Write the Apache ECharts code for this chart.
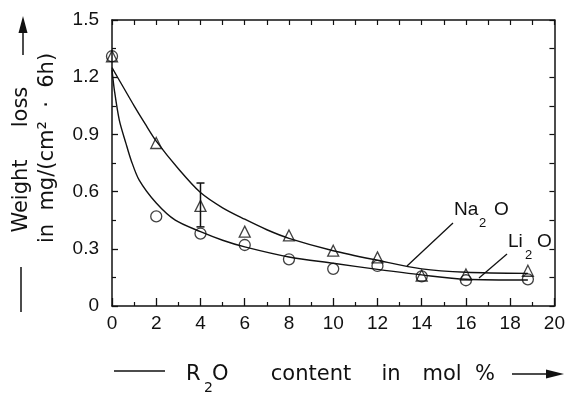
<!DOCTYPE html>
<html><head><meta charset="utf-8">
<script src="https://cdn.jsdelivr.net/npm/echarts@6/dist/echarts.min.js"></script>
<style>html,body{margin:0;padding:0;background:#fff}#c{width:568px;height:393px}</style>
</head><body><div id="c"></div>
<script>
// Measured points
const naX = [0, 2, 4, 6, 8, 10, 12, 14, 16, 18.8];
const naY = [1.31, 0.855, 0.525, 0.39, 0.37, 0.29, 0.255, 0.16, 0.165, 0.185];
const liX = [0, 2, 4, 6, 8, 10, 12, 14, 16, 18.8];
const liY = [1.31, 0.47, 0.38, 0.32, 0.245, 0.195, 0.21, 0.155, 0.135, 0.14];
// Error bar on the Na2O point at 4 mol %
const errX = [4];
const errLow = [0.415];
const errHigh = [0.645];
// Fitted curves
const naFitX = [0, 0.5, 1, 1.5, 2, 3, 4, 5, 6, 7, 8, 10, 12, 14, 16, 18.8];
const naFitY = [1.25, 1.15, 1.05, 0.955, 0.865, 0.72, 0.595, 0.515, 0.455, 0.40, 0.355, 0.29, 0.24, 0.195, 0.177, 0.171];
const liFitX = [0, 0.11, 0.33, 0.63, 0.86, 1.23, 2, 2.86, 4, 5, 6, 8, 10, 12, 14, 16, 18.8];
const liFitY = [1.24, 1.13, 0.975, 0.853, 0.766, 0.66, 0.54, 0.45, 0.39, 0.345, 0.31, 0.257, 0.224, 0.192, 0.163, 0.14, 0.136];
// Tick labels
const xTickLabels = ['0', '2', '4', '6', '8', '10', '12', '14', '16', '18', '20'];
const yTickLabels = ['0', '0.3', '0.6', '0.9', '1.2', '1.5'];

const INK = '#111';
const zip = (a, b) => a.map((v, i) => [v, b[i]]);

const chart = echarts.init(document.getElementById('c'), null, {renderer: 'canvas'});

const axisLine = {show: true, onZero: false, lineStyle: {color: INK, width: 1.5}};
const tickFont = {fontFamily: 'Liberation Sans', fontSize: 19, color: INK};

const tTitle = 'DejaVu Sans';
function txt(text, x, y, size, opt) {
  return Object.assign({
    type: 'text', x: x, y: y, silent: true,
    style: Object.assign({text: text, fontFamily: tTitle, fontSize: size, fill: INK,
      textAlign: 'left', textVerticalAlign: 'middle'}, opt && opt.style || {})
  }, opt && opt.el || {});
}
const C = {style: {textAlign: 'center'}};
function seg(x1, y1, x2, y2, w) {
  return {type: 'line', silent: true, shape: {x1, y1, x2, y2}, style: {stroke: INK, lineWidth: w || 1.5}};
}
function poly(points) {
  return {type: 'polygon', silent: true, shape: {points}, style: {fill: INK}};
}

const option = {
  animation: false,
  backgroundColor: '#fff',
  grid: {left: 112, right: 8, top: 20, bottom: 87},
  xAxis: [
    {type: 'value', min: 0, max: 20, interval: 2, position: 'bottom',
     axisLine: axisLine,
     axisTick: {show: true, inside: true, length: 8, lineStyle: {color: INK, width: 1.3}},
     minorTick: {show: true, splitNumber: 2, length: 4, lineStyle: {color: INK, width: 1.2}},
     splitLine: {show: false}, minorSplitLine: {show: false},
     axisLabel: Object.assign({margin: 8, formatter: v => xTickLabels[Math.round(v / 2)]}, tickFont)},
    {type: 'value', min: 0, max: 20, interval: 1, position: 'top',
     axisLine: axisLine,
     axisTick: {show: true, inside: true, length: 5, lineStyle: {color: INK, width: 1.2}},
     splitLine: {show: false}, axisLabel: {show: false}}
  ],
  yAxis: [
    {type: 'value', min: 0, max: 1.5, interval: 0.3, position: 'left',
     axisLine: axisLine,
     axisTick: {show: true, inside: true, length: 6, lineStyle: {color: INK, width: 1.3}},
     minorTick: {show: true, splitNumber: 2, length: 4, lineStyle: {color: INK, width: 1.2}},
     splitLine: {show: false}, minorSplitLine: {show: false},
     axisLabel: Object.assign({margin: 13, formatter: v => yTickLabels[Math.round(v / 0.3)]}, tickFont)},
    {type: 'value', min: 0, max: 1.5, interval: 0.15, position: 'right',
     axisLine: axisLine,
     axisTick: {show: true, inside: true, length: 5, lineStyle: {color: INK, width: 1.2}},
     splitLine: {show: false}, axisLabel: {show: false}}
  ],
  series: [
    {name: 'Na2O fit', type: 'line', xAxisIndex: 0, yAxisIndex: 0, data: zip(naFitX, naFitY),
     smooth: 0.3, showSymbol: false, symbol: 'none', lineStyle: {color: INK, width: 1.4}, silent: true},
    {name: 'Li2O fit', type: 'line', xAxisIndex: 0, yAxisIndex: 0, data: zip(liFitX, liFitY),
     smooth: 0.3, showSymbol: false, symbol: 'none', lineStyle: {color: INK, width: 1.4}, silent: true},
    {name: 'Na2O', type: 'scatter', data: zip(naX, naY), symbol: 'triangle', symbolSize: [11, 11],
     itemStyle: {color: 'rgba(0,0,0,0)', borderColor: INK, borderWidth: 1.3}, silent: true, z: 5},
    {name: 'Li2O', type: 'scatter', data: zip(liX, liY), symbol: 'circle', symbolSize: 11,
     itemStyle: {color: 'rgba(0,0,0,0)', borderColor: INK, borderWidth: 1.3}, silent: true, z: 5},
    {name: 'error', type: 'custom', data: errX.map((x, i) => [x, errLow[i], errHigh[i]]), silent: true, z: 6,
     renderItem: function (params, api) {
       const lo = api.coord([api.value(0), api.value(1)]);
       const hi = api.coord([api.value(0), api.value(2)]);
       const st = {stroke: INK, lineWidth: 1.5};
       return {type: 'group', children: [
         {type: 'line', shape: {x1: lo[0], y1: lo[1], x2: hi[0], y2: hi[1]}, style: st},
         {type: 'line', shape: {x1: hi[0] - 4, y1: hi[1], x2: hi[0] + 4, y2: hi[1]}, style: st},
         {type: 'line', shape: {x1: lo[0] - 4, y1: lo[1], x2: lo[0] + 4, y2: lo[1]}, style: st}
       ]};
     }}
  ],
  graphic: [
    // series labels
    txt('Na', 454, 210, 19, {style: {fontFamily: 'Liberation Sans'}}),
    txt('2', 479, 223, 13, {style: {fontFamily: 'Liberation Sans'}}),
    txt('O', 494, 210, 19, {style: {fontFamily: 'Liberation Sans'}}),
    seg(453, 223, 407, 266, 1.3),
    txt('Li', 508, 242, 19, {style: {fontFamily: 'Liberation Sans'}}),
    txt('2', 525, 255, 13, {style: {fontFamily: 'Liberation Sans'}}),
    txt('O', 537, 242, 19, {style: {fontFamily: 'Liberation Sans'}}),
    seg(507, 254, 479, 278, 1.3),
    // x title
    seg(114, 371, 165, 371, 1.5),
    txt('R', 186, 375, 21),
    txt('2', 204, 388, 14),
    txt('O', 212, 375, 21),
    txt('content', 311, 375, 21, C),
    txt('in', 391, 375, 21, C),
    txt('mol', 442, 375, 21, C),
    txt('%', 485, 375, 21, C),
    seg(512, 374, 548, 374, 1.5),
    poly([[564, 374], [546, 369.5], [546, 378.5]]),
    // y title
    seg(21, 267, 21, 312, 1.5),
    txt('Weight', 22, 196, 21, {style: {textAlign: 'center'}, el: {rotation: Math.PI / 2}}),
    txt('loss', 22, 107, 21, {style: {textAlign: 'center'}, el: {rotation: Math.PI / 2}}),
    seg(23, 55, 23, 32, 1.5),
    poly([[23, 16], [18.5, 33], [27.5, 33]]),
    txt('in  mg/(cm²  ·  6h)', 48, 148, 21, {style: {textAlign: 'center'}, el: {rotation: Math.PI / 2}})
  ]
};
chart.setOption(option);
</script>
</body></html>
